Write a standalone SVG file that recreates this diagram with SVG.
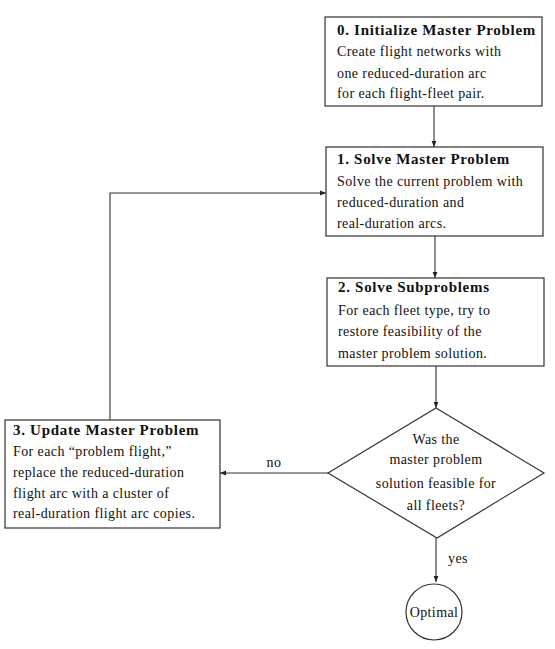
<svg xmlns="http://www.w3.org/2000/svg" width="555" height="649" viewBox="0 0 555 649">
<defs>
<marker id="ah" viewBox="0 0 10 10" refX="10" refY="5" markerWidth="6" markerHeight="6" orient="auto" markerUnits="userSpaceOnUse">
<path d="M0,1 L10,5 L0,9 z" fill="#222"/>
</marker>
<style>
.box{fill:#fff;stroke:#333;stroke-width:1.2}
.ln{fill:none;stroke:#333;stroke-width:1.1;marker-end:url(#ah)}
.t{font-family:"Liberation Serif","DejaVu Serif",serif;font-size:14px;letter-spacing:0.4px;fill:#111}
.b{font-weight:bold;font-size:15px;letter-spacing:0.7px}
.c{text-anchor:middle}
</style>
</defs>
<rect width="555" height="649" fill="#fff"/>
<g id="connectors">
<path class="ln" d="M434,106 L434,147"/>
<path class="ln" d="M435,236 L435,278"/>
<path class="ln" d="M436,366 L436,408"/>
<path class="ln" d="M328,473 L220,473"/>
<path class="ln" d="M110,420 L110,193 L326,193"/>
<path class="ln" d="M436,538 L436,582"/>
<text class="t" x="274" y="467" text-anchor="middle">no</text>
<text class="t" x="448" y="563">yes</text>
</g>
<g id="n0">
<rect class="box" x="325" y="17" width="217" height="89"/>
<text class="t b" x="337" y="35">0. Initialize Master Problem</text>
<text class="t" x="337" y="56">Create flight networks with</text>
<text class="t" x="337" y="78">one reduced-duration arc</text>
<text class="t" x="337" y="98">for each flight-fleet pair.</text>
</g>
<g id="n1">
<rect class="box" x="326" y="147" width="217" height="89"/>
<text class="t b" x="337" y="164">1. Solve Master Problem</text>
<text class="t" x="337" y="186">Solve the current problem with</text>
<text class="t" x="337" y="207">reduced-duration and</text>
<text class="t" x="337" y="228">real-duration arcs.</text>
</g>
<g id="n2">
<rect class="box" x="327" y="278" width="217" height="88"/>
<text class="t b" x="338" y="292">2. Solve Subproblems</text>
<text class="t" x="338" y="315">For each fleet type, try to</text>
<text class="t" x="338" y="336">restore feasibility of the</text>
<text class="t" x="338" y="358">master problem solution.</text>
</g>
<g id="n3">
<rect class="box" x="5" y="420" width="215" height="108"/>
<text class="t b" x="13" y="435">3. Update Master Problem</text>
<text class="t" x="13" y="456">For each “problem flight,”</text>
<text class="t" x="13" y="477">replace the reduced-duration</text>
<text class="t" x="13" y="498">flight arc with a cluster of</text>
<text class="t" x="13" y="518">real-duration flight arc copies.</text>
</g>
<g id="decision">
<polygon class="box" points="436,408 544,473 437,538 328,473"/>
<text class="t c" x="436" y="444">Was the</text>
<text class="t c" x="436" y="464">master problem</text>
<text class="t c" x="436" y="488">solution feasible for</text>
<text class="t c" x="436" y="510">all fleets?</text>
</g>
<g id="optimal">
<circle class="box" cx="434" cy="612" r="28"/>
<text class="t c" x="434" y="617">Optimal</text>
</g>
</svg>
